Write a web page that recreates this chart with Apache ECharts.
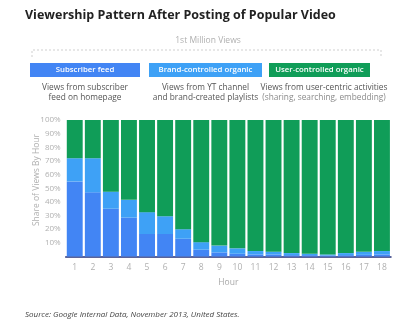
<!DOCTYPE html>
<html>
<head>
<meta charset="utf-8">
<script src="https://cdn.jsdelivr.net/npm/echarts@6/dist/echarts.min.js"></script>
<style>
  html, body { margin: 0; padding: 0; background: #fff; }
  #chart { width: 400px; height: 323px; }
</style>
</head>
<body>
<div id="chart"></div>
<script>
// Hours since posting
const hours = ['1','2','3','4','5','6','7','8','9','10','11','12','13','14','15','16','17','18'];

// Share of views by source (%), per hour
const subscriberFeed = [55, 47, 35, 28.5, 16.5, 16.5, 13, 5, 3, 2, 1.5, 1.5, 1, 1, 0.8, 1, 1.2, 1.5];
const brandOrganic   = [17, 25, 12.5, 13, 16, 13, 7, 5.5, 5, 4, 2.5, 2, 1.5, 1, 0.7, 1.5, 2.2, 2.5];
const userOrganic    = [28, 28, 52.5, 58.5, 67.5, 70.5, 80, 89.5, 92, 94, 96, 96.5, 97.5, 98, 98.5, 97.5, 96.6, 96];

// Y axis ticks
const yTicks = [0, 10, 20, 30, 40, 50, 60, 70, 80, 90, 100];

// Legend boxes and their descriptions
const sourceNames = ['Subscriber feed', 'Brand-controlled organic', 'User-controlled organic'];
const sourceNotes = [
  ['Views from subscriber', 'feed on homepage'],
  ['Views from YT channel', 'and brand-created playlists'],
  ['Views from user-centric activities', '(sharing, searching, embedding)']
];

const colors = ['#4285f4', '#3ea1f6', '#109d58'];
const font = '"Open Sans", "Noto Sans", sans-serif';

const boxes = [
  { x: 30, w: 110, cx: 85 },
  { x: 149, w: 113, cx: 205.5 },
  { x: 269, w: 101, cx: 324 }
];

const graphics = [
  {
    type: 'text', x: 208, y: 41,
    style: { text: '1st Million Views', font: '8.5px ' + font, fill: '#b0b0b0', align: 'center', verticalAlign: 'middle' }
  },
  {
    type: 'polyline',
    shape: { points: [[32, 57], [32, 50], [381, 50], [381, 57]] },
    style: { stroke: '#cfcfcf', lineWidth: 1, lineDash: [2, 2], fill: null }
  },
  {
    // y axis title
    type: 'text', x: 36.5, y: 180, rotation: Math.PI / 2,
    style: { text: 'Share of Views By Hour', font: '8.5px ' + font, fill: '#b0b0b0', align: 'center', verticalAlign: 'middle' }
  }
];

boxes.forEach((b, i) => {
  graphics.push({
    type: 'rect',
    shape: { x: b.x, y: 63, width: b.w, height: 14 },
    style: { fill: colors[i] }
  });
  graphics.push({
    type: 'text',
    x: b.x + b.w / 2, y: 70,
    style: {
      text: sourceNames[i], fill: '#fff', font: '600 7.8px ' + font,
      align: 'center', verticalAlign: 'middle'
    }
  });
  sourceNotes[i].forEach((line, j) => {
    graphics.push({
      type: 'text',
      x: b.cx, y: 88 + j * 10,
      style: {
        text: line, fill: j === 1 && i === 2 ? '#8a8a8a' : '#555',
        font: '500 8.3px ' + font, align: 'center', verticalAlign: 'middle'
      }
    });
  });
});

const chart = echarts.init(document.getElementById('chart'), null, { renderer: 'canvas' });

const seriesBase = {
  type: 'bar',
  stack: 'share',
  barCategoryGap: '12%',
  silent: true
};

chart.setOption({
  animation: false,
  backgroundColor: '#fff',
  title: [
    {
      text: 'Viewership Pattern After Posting of Popular Video',
      left: 20, top: 4,
      textStyle: { fontFamily: font, fontSize: 12.5, fontWeight: 'bold', color: '#222' }
    },
    {
      text: 'Source: Google Internal Data, November 2013, United States.',
      left: 20, top: 306,
      textStyle: { fontFamily: font, fontSize: 8, fontStyle: 'italic', fontWeight: 'normal', color: '#444' }
    }
  ],
  grid: { left: 65.7, right: 9, top: 120, bottom: 66.5 },
  xAxis: {
    type: 'category',
    data: hours,
    name: 'Hour',
    nameLocation: 'middle',
    nameGap: 22,
    nameTextStyle: { fontFamily: font, fontSize: 8.5, color: '#a8a8a8' },
    axisLine: { lineStyle: { color: '#26327a', width: 1.5 } },
    axisTick: { show: false },
    axisLabel: { fontFamily: font, fontSize: 8.5, color: '#b0b0b0', margin: 7 }
  },
  yAxis: {
    type: 'value',
    min: yTicks[0],
    max: yTicks[yTicks.length - 1],
    interval: yTicks[1] - yTicks[0],
    axisLine: { show: false },
    axisTick: { show: false },
    splitLine: { show: false },
    axisLabel: {
      fontFamily: font, fontSize: 8, color: '#b0b0b0', margin: 5,
      formatter: v => (v === 0 ? '' : v + '%')
    }
  },
  series: [
    Object.assign({}, seriesBase, { name: sourceNames[0], data: subscriberFeed, itemStyle: { color: colors[0] } }),
    Object.assign({}, seriesBase, { name: sourceNames[1], data: brandOrganic, itemStyle: { color: colors[1] } }),
    Object.assign({}, seriesBase, { name: sourceNames[2], data: userOrganic, itemStyle: { color: colors[2] } })
  ],
  graphic: graphics
});
</script>
</body>
</html>
